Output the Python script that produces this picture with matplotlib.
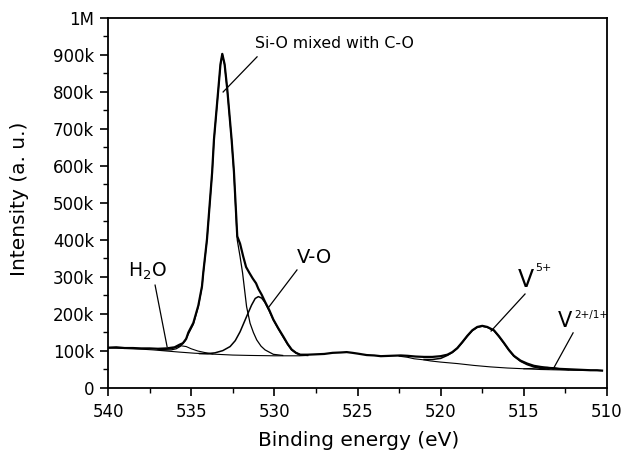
import numpy as np
import matplotlib
matplotlib.use("Agg")
import matplotlib.pyplot as plt

# values (binding energy in eV, intensity in counts)
env_e = [540.0, 539.5, 539.0, 538.5, 538.0, 537.5, 537.0, 536.5, 536.0, 535.7, 535.5,
         535.3, 535.17, 534.87, 534.57, 534.35, 534.27, 534.05, 533.74, 533.63, 533.37,
         533.24, 533.13, 532.99, 532.83, 532.57, 532.43, 532.23, 532.06, 531.87, 531.7,
         531.5, 531.3, 531.1, 530.96, 530.76, 530.56, 530.3, 530.06, 529.76, 529.46,
         529.2, 528.96, 528.7, 528.45, 528.0, 527.5, 527.0, 526.5, 526.0, 525.65,
         525.3, 525.0, 524.45, 524.0, 523.6, 523.0, 522.4, 522.0, 521.5, 521.0,
         520.5, 520.0, 519.6, 519.3, 519.0, 518.7, 518.4, 518.1, 517.8, 517.5,
         517.2, 516.8, 516.5, 516.2, 515.9, 515.6, 515.2, 514.8, 514.4, 514.0,
         513.5, 513.0, 512.5, 512.0, 511.5, 511.0, 510.6, 510.3]
env_i = [109e3, 110e3, 108e3, 108e3, 107e3, 107e3, 106e3, 107e3, 110e3, 117e3, 121e3,
         133e3, 150e3, 176e3, 223e3, 275e3, 313e3, 402e3, 583e3, 672e3, 807e3,
         875e3, 903e3, 875e3, 807e3, 672e3, 585e3, 410e3, 390e3, 355e3, 327e3,
         311e3, 296e3, 283e3, 268e3, 252e3, 233e3, 210e3, 185e3, 161e3, 139e3,
         119e3, 104e3, 95e3, 90e3, 90e3, 91e3, 92e3, 95e3, 96e3, 97e3,
         95e3, 93e3, 89e3, 88e3, 86e3, 87e3, 88e3, 87e3, 85e3, 84e3,
         84e3, 86e3, 90e3, 97e3, 108e3, 124e3, 141e3, 156e3, 165e3, 168e3,
         165e3, 156e3, 140e3, 122e3, 103e3, 87e3, 74e3, 66e3, 60e3, 57e3,
         54e3, 52e3, 51e3, 50e3, 49e3, 48e3, 48e3, 47e3]

sio_e = [536.8, 536.2, 535.9, 535.67, 535.35, 535.17, 534.87, 534.57, 534.35, 534.27,
         534.05, 533.74, 533.63, 533.37, 533.24, 533.13, 532.99, 532.83, 532.57, 532.43,
         532.23, 532.06, 531.91, 531.67, 531.46, 531.26, 531.06, 530.8, 530.56, 530.06, 529.5]
sio_i = [102e3, 103e3, 106e3, 112e3, 128e3, 146e3, 172e3, 220e3, 273e3, 311e3,
         400e3, 581e3, 670e3, 805e3, 873e3, 903e3, 873e3, 805e3, 670e3, 581e3,
         400e3, 355e3, 311e3, 220e3, 175e3, 150e3, 130e3, 113e3, 103e3, 91e3, 88e3]

vo_e = [534.5, 534.0, 533.57, 533.1, 532.66, 532.35, 532.06, 531.67, 531.37, 531.15,
        530.96, 530.76, 530.56, 530.3, 530.06, 529.76, 529.46, 529.2, 528.96, 528.7,
        528.45, 528.0]
vo_i = [93e3, 93e3, 95e3, 101e3, 112e3, 128e3, 152e3, 193e3, 224e3, 242e3,
        247e3, 243e3, 231e3, 208e3, 184e3, 160e3, 137e3, 118e3, 103e3, 95e3,
        90e3, 88e3]

h2o_e = [537.0, 536.6, 536.2, 535.9, 535.6, 535.3, 535.0, 534.6, 534.2, 533.7]
h2o_i = [104e3, 104e3, 106e3, 110e3, 114e3, 112e3, 106e3, 100e3, 96e3, 92e3]

v5_e = [521.0, 520.5, 520.0, 519.6, 519.3, 519.0, 518.7, 518.4, 518.1, 517.8, 517.5,
        517.2, 516.8, 516.5, 516.2, 515.9, 515.6, 515.2, 514.8, 514.4, 514.0, 513.5]
v5_i = [77e3, 77e3, 80e3, 88e3, 96e3, 107e3, 123e3, 140e3, 155e3, 164e3, 167e3,
        164e3, 155e3, 139e3, 121e3, 102e3, 86e3, 72e3, 63e3, 57e3, 53e3, 51e3]

v21_e = [515.0, 514.5, 514.0, 513.6, 513.2, 512.8, 512.3]
v21_i = [52e3, 53e3, 55e3, 56e3, 55e3, 52e3, 49e3]

bg_o_e = [540.0, 539.0, 538.0, 537.3, 536.5, 535.7, 534.8, 533.9, 532.5, 531.5, 530.0, 528.5, 528.0]
bg_o_i = [108e3, 107e3, 105e3, 103e3, 100e3, 97e3, 94e3, 92e3, 89e3, 88e3, 87e3, 87e3, 88e3]

bg_v_e = [522.5, 522.0, 521.6, 521.0, 520.6, 520.0, 519.0, 518.0, 517.0, 516.0,
          515.0, 514.0, 513.0, 512.0, 511.0, 510.3]
bg_v_i = [86e3, 83e3, 79e3, 76e3, 73e3, 70e3, 66e3, 61e3, 57e3, 54e3,
          52e3, 50e3, 49e3, 48e3, 47.5e3, 47e3]

y_ticks = [0, 100e3, 200e3, 300e3, 400e3, 500e3, 600e3, 700e3, 800e3, 900e3, 1e6]
y_labels = ["0", "100k", "200k", "300k", "400k", "500k", "600k", "700k", "800k", "900k", "1M"]
x_ticks = [540, 535, 530, 525, 520, 515, 510]

plt.rcParams['font.family'] = ['DejaVu Sans']
fig = plt.figure(figsize=(6.24, 4.59), dpi=100)
ax = fig.add_axes([0.1731, 0.1547, 0.7997, 0.8061])

ax.plot(bg_o_e, bg_o_i, color='black', lw=0.8)
ax.plot(bg_v_e, bg_v_i, color='black', lw=0.8)
ax.plot(h2o_e, h2o_i, color='black', lw=0.8)
ax.plot(sio_e, sio_i, color='black', lw=0.9)
ax.plot(vo_e, vo_i, color='black', lw=1.1)
ax.plot(v21_e, v21_i, color='black', lw=0.8)
ax.plot(v5_e, v5_i, color='black', lw=1.1)
ax.plot(env_e, env_i, color='black', lw=1.6)

ax.set_xlim(540, 510)
ax.set_ylim(0, 1e6)
ax.set_xticks(x_ticks)
ax.set_xticks(np.arange(537.5, 510, -5), minor=True)
ax.set_yticks(y_ticks)
ax.set_yticklabels(y_labels)
ax.set_yticks(np.arange(50e3, 1e6, 100e3), minor=True)
ax.tick_params(which='major', direction='out', length=6, width=1.2, labelsize=12, pad=4)
ax.tick_params(which='minor', direction='out', length=3.5, width=1.0)
ax.tick_params(axis='x', which='major', pad=5)
for s in ax.spines.values():
    s.set_linewidth(1.3)

ax.set_xlabel('Binding energy (eV)', fontsize=14.5)
ax.set_ylabel('Intensity (a. u.)', fontsize=14.5)
ax.xaxis.set_label_coords(0.503, -0.115)
ax.yaxis.set_label_coords(-0.158, 0.51)

# peak labels with leader lines
line_kw = dict(color='black', lw=0.9)
ax.text(531.16, 932e3, 'Si-O mixed with C-O', fontsize=11.3, ha='left', va='center')
ax.plot([531.04, 533.08], [895e3, 800e3], **line_kw)

ax.text(538.8, 300e3, 'H$_2$O', fontsize=13.5, ha='left', va='baseline')
ax.plot([537.17, 536.45], [278e3, 112e3], **line_kw)

ax.text(528.64, 338e3, 'V-O', fontsize=14, ha='left', va='baseline')
ax.plot([528.64, 530.38], [319e3, 216e3], **line_kw)

ax.text(515.35, 273e3, 'V', fontsize=17, ha='left', va='baseline')
ax.text(514.3, 338e3, '5+', fontsize=8, ha='left', va='top')
ax.plot([514.93, 516.97], [254e3, 154e3], **line_kw)

ax.text(512.94, 165e3, 'V', fontsize=15, ha='left', va='baseline')
ax.text(511.95, 210e3, '2+/1+', fontsize=7.5, ha='left', va='top')
ax.plot([512.04, 513.24], [149e3, 51e3], **line_kw)

fig.savefig('out.png', dpi=100)
